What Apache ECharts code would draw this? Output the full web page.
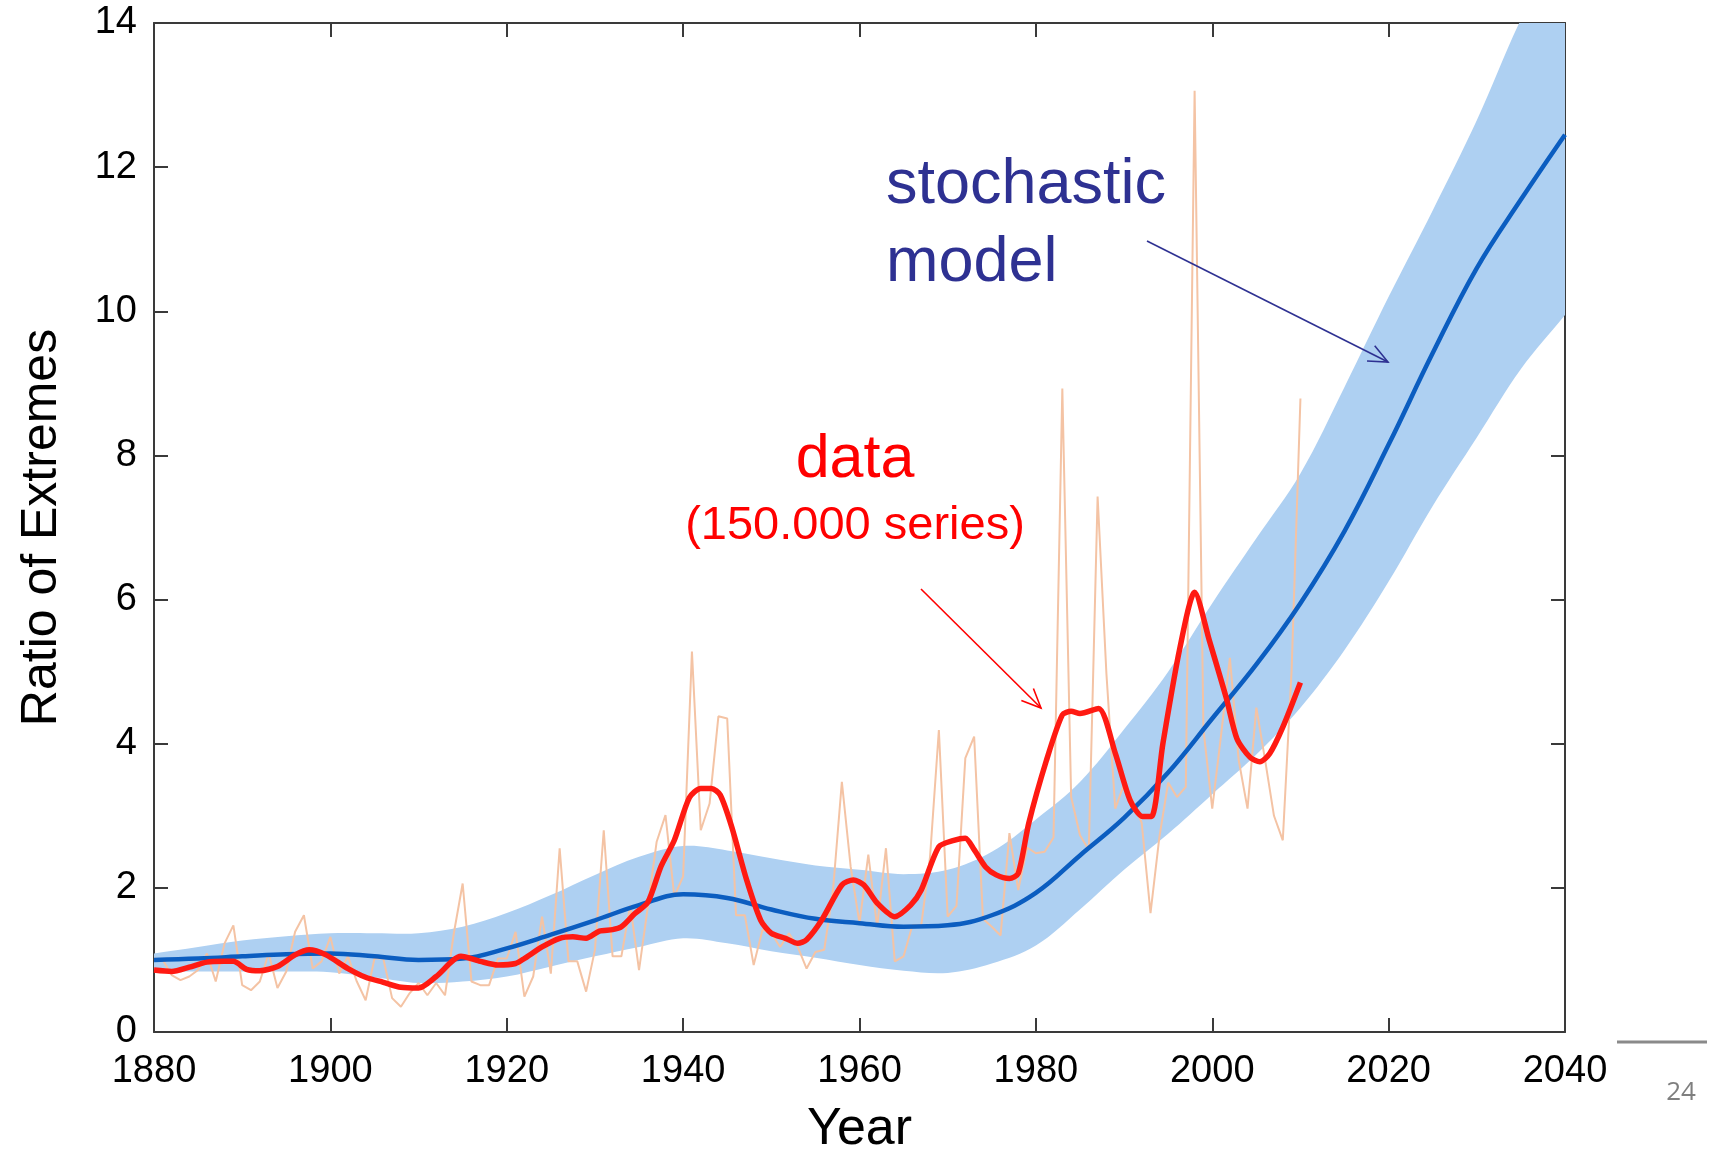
<!DOCTYPE html>
<html>
<head>
<meta charset="utf-8">
<script src="https://cdn.jsdelivr.net/npm/echarts@6/dist/echarts.min.js"></script>
<style>
  html, body { margin: 0; padding: 0; background: #ffffff; }
  #chart { width: 1716px; height: 1150px; }
</style>
</head>
<body>
<div id="chart"></div>
<script>
// Stochastic model: median and uncertainty band, every 5 years
const modelYears  = [1880, 1885, 1890, 1895, 1900, 1905, 1910, 1915, 1920, 1925, 1930, 1935, 1940, 1945, 1950, 1955, 1960,
                     1965, 1970, 1975, 1980, 1985, 1990, 1995, 2000, 2005, 2010, 2015, 2020, 2025, 2030, 2035, 2040];
const modelMedian = [1.00, 1.02, 1.05, 1.08, 1.09, 1.05, 1.00, 1.02, 1.16, 1.35, 1.55, 1.76, 1.91, 1.86, 1.70, 1.57, 1.51,
                     1.46, 1.48, 1.62, 1.93, 2.45, 2.97, 3.60, 4.35, 5.10, 5.95, 6.95, 8.15, 9.42, 10.60, 11.55, 12.45];
const modelUpper  = [1.09, 1.18, 1.27, 1.33, 1.37, 1.37, 1.37, 1.46, 1.65, 1.90, 2.18, 2.43, 2.58, 2.52, 2.41, 2.31, 2.25,
                     2.19, 2.25, 2.50, 2.95, 3.47, 4.20, 5.00, 5.95, 6.85, 7.75, 8.95, 10.20, 11.40, 12.65, 14.05, 15.20];
const modelLower  = [0.84, 0.84, 0.84, 0.84, 0.83, 0.76, 0.68, 0.70, 0.77, 0.91, 1.05, 1.18, 1.30, 1.23, 1.12, 1.03, 0.93,
                     0.85, 0.82, 0.95, 1.20, 1.70, 2.25, 2.75, 3.30, 3.85, 4.50, 5.30, 6.25, 7.30, 8.25, 9.20, 9.95];

// Observed ratio of record highs to record lows, one value per year from 1880
const annualStart = 1880;
const annualRatio = [
  1.02, 1.00, 0.79, 0.72, 0.77, 0.86, 1.09, 0.70, 1.23, 1.48,   // 1880s
  0.65, 0.58, 0.70, 1.09, 0.61, 0.84, 1.39, 1.62, 0.88, 0.98,   // 1890s
  1.32, 0.81, 1.05, 0.70, 0.44, 1.02, 1.02, 0.47, 0.35, 0.54,   // 1900s
  0.68, 0.51, 0.68, 0.51, 1.37, 2.06, 0.70, 0.65, 0.65, 1.02,   // 1910s
  1.02, 1.39, 0.49, 0.77, 1.60, 0.81, 2.55, 0.98, 0.98, 0.56,   // 1920s
  1.14, 2.80, 1.05, 1.05, 1.76, 0.86, 1.74, 2.64, 3.01, 1.88,   // 1930s
  2.16, 5.28, 2.80, 3.17, 4.38, 4.35, 1.62, 1.62, 0.93, 1.42,   // 1940s
  1.37, 1.18, 1.37, 1.18, 0.88, 1.11, 1.14, 1.97, 3.47, 2.29,   // 1950s
  1.51, 2.46, 1.46, 2.55, 0.98, 1.05, 1.48, 1.48, 2.43, 4.19,   // 1960s
  1.60, 1.75, 3.80, 4.10, 1.57, 1.46, 1.34, 2.76, 1.97, 2.56,   // 1970s
  2.48, 2.50, 2.70, 8.93, 3.26, 2.73, 2.53, 7.43, 4.97, 3.10,   // 1980s
  3.44, 3.20, 2.90, 1.65, 2.70, 3.46, 3.26, 3.40, 13.06, 4.20,  // 1990s
  3.10, 4.12, 5.19, 3.77, 3.10, 4.50, 3.77, 3.00, 2.66, 5.02,   // 2000s
  8.79                                                          // 2010
];

// Smoothed observed ratio
const smoothYears = [1880, 1882, 1884, 1886, 1888, 1889, 1890.5, 1892, 1894, 1896, 1897.6, 1899.5, 1902, 1904, 1906, 1908,
                     1910, 1912, 1914.8, 1917, 1919, 1921, 1922, 1924, 1926, 1927.5, 1929, 1930.5, 1932, 1933, 1934.5,
                     1936, 1937.5, 1939, 1940.7, 1942, 1943.2, 1944.2, 1945.5, 1947.2, 1948.8, 1950, 1951.6, 1953, 1954,
                     1955.7, 1958, 1959.3, 1960.5, 1962, 1964, 1965.8, 1967, 1969, 1970.7, 1972, 1973, 1974.3, 1975.5,
                     1977, 1978, 1979.2, 1981.2, 1983, 1984, 1985, 1987.1, 1989, 1990.7, 1992.1, 1993.1, 1994.4, 1996.3,
                     1998, 1999.7, 2001.6, 2002.8, 2004.3, 2005.4, 2006.5, 2008, 2010];
const smoothRatio = [0.86, 0.84, 0.90, 0.97, 0.98, 0.98, 0.87, 0.85, 0.91, 1.07, 1.14, 1.07, 0.88, 0.76, 0.69, 0.62,
                     0.61, 0.77, 1.05, 0.98, 0.93, 0.95, 1.02, 1.18, 1.30, 1.32, 1.30, 1.40, 1.42, 1.46, 1.64,
                     1.80, 2.30, 2.66, 3.25, 3.38, 3.38, 3.29, 2.85, 2.11, 1.55, 1.37, 1.30, 1.23, 1.28,
                     1.55, 2.04, 2.11, 2.04, 1.79, 1.60, 1.76, 1.97, 2.57, 2.66, 2.69, 2.53, 2.29, 2.18,
                     2.13, 2.20, 2.90, 3.77, 4.40, 4.45, 4.42, 4.49, 3.87, 3.21, 2.99, 2.99, 4.00, 5.31,
                     6.10, 5.42, 4.63, 4.07, 3.81, 3.75, 3.86, 4.23, 4.85];

const FONT = '"Liberation Sans", Arial, sans-serif';
const AXIS_COLOR = '#3a3a3a';
const BAND_COLOR = '#aed0f2';

const pair = (xs, ys) => xs.map((x, i) => [x, ys[i]]);

const chart = echarts.init(document.getElementById('chart'), null, { renderer: 'canvas' });

function arrow(x1, y1, x2, y2, color) {
  const ang = Math.atan2(y2 - y1, x2 - x1);
  const len = 21, spread = 0.42;
  const a = [x2 - len * Math.cos(ang - spread), y2 - len * Math.sin(ang - spread)];
  const b = [x2 - len * Math.cos(ang + spread), y2 - len * Math.sin(ang + spread)];
  return [
    { type: 'line', z: 20, shape: { x1: x1, y1: y1, x2: x2, y2: y2 }, style: { stroke: color, lineWidth: 1.6 } },
    { type: 'polyline', z: 20, shape: { points: [a, [x2, y2], b] }, style: { stroke: color, lineWidth: 1.6, fill: null } }
  ];
}

// Uncertainty band: one filled shape between the upper and lower model curves
function renderBand(params, api) {
  if (params.dataIndex !== 0) return null;
  const n = modelYears.length;
  const upper = [], lower = [];
  for (let i = 0; i < n; i++) {
    upper.push(api.coord([modelYears[i], modelUpper[i]]));
    lower.push(api.coord([modelYears[i], modelLower[i]]));
  }
  // repeat the end points so the smoothing keeps square ends
  const pts = [upper[0]].concat(upper, [upper[n - 1], lower[n - 1]], lower.slice().reverse(), [lower[0]]);
  const cs = params.coordSys;
  return {
    type: 'polygon',
    shape: { points: pts, smooth: 0.35 },
    style: { fill: BAND_COLOR, stroke: null },
    clipPath: { type: 'rect', shape: { x: cs.x, y: cs.y, width: cs.width, height: cs.height } },
    silent: true
  };
}

const valueAxisCommon = {
  axisLine: { show: true, onZero: false, lineStyle: { color: AXIS_COLOR, width: 2 } },
  axisTick: { show: true, inside: true, length: 14, lineStyle: { color: AXIS_COLOR, width: 2 } },
  splitLine: { show: false }
};

chart.setOption({
  animation: false,
  backgroundColor: '#ffffff',
  grid: { left: 154, right: 151, top: 23, bottom: 118, outerBoundsMode: 'none', containLabel: false },
  xAxis: [
    Object.assign({
      type: 'value', position: 'bottom', min: 1880, max: 2040, interval: 20,
      axisLabel: { show: true, fontSize: 38, color: '#000', margin: 21, fontFamily: FONT, formatter: v => String(v) },
      name: 'Year', nameLocation: 'middle', nameGap: 72,
      nameTextStyle: { fontSize: 52, color: '#000', fontFamily: FONT }
    }, valueAxisCommon),
    Object.assign({
      type: 'value', position: 'top', min: 1880, max: 2040, interval: 20,
      axisLabel: { show: false }
    }, valueAxisCommon)
  ],
  yAxis: [
    Object.assign({
      type: 'value', position: 'left', min: 0, max: 14, interval: 2,
      axisLabel: { show: true, fontSize: 38, color: '#000', margin: 17, fontFamily: FONT },
      name: 'Ratio of Extremes', nameLocation: 'middle', nameGap: 87, nameRotate: 90,
      nameTextStyle: { fontSize: 50, color: '#000', fontFamily: FONT }
    }, valueAxisCommon),
    Object.assign({
      type: 'value', position: 'right', min: 0, max: 14, interval: 2,
      axisLabel: { show: false }
    }, valueAxisCommon)
  ],
  series: [
    {
      name: 'model band', type: 'custom', silent: true, z: 2,
      data: modelYears.map((y, i) => [y, modelLower[i], modelUpper[i]]),
      encode: { x: 0, y: [1, 2] },
      renderItem: renderBand
    },
    {
      name: 'annual', type: 'line', symbol: 'none', silent: true,
      data: annualRatio.map((v, i) => [annualStart + i, v]),
      lineStyle: { color: '#f4c3a4', width: 2 }, z: 3
    },
    {
      name: 'model median', type: 'line', smooth: 0.4, symbol: 'none', silent: true,
      data: pair(modelYears, modelMedian),
      lineStyle: { color: '#0b5dc0', width: 4.5 }, z: 4
    },
    {
      name: 'smoothed data', type: 'line', smooth: 0.25, symbol: 'none', silent: true,
      data: pair(smoothYears, smoothRatio),
      lineStyle: { color: '#ff1a12', width: 5.5, join: 'round' }, z: 5
    }
  ],
  graphic: [
    { type: 'text', z: 20, style: { text: 'stochastic', x: 886, y: 186, font: '63px ' + FONT, fill: '#2e3192', textAlign: 'left', textVerticalAlign: 'middle' } },
    { type: 'text', z: 20, style: { text: 'model', x: 886, y: 264, font: '63px ' + FONT, fill: '#2e3192', textAlign: 'left', textVerticalAlign: 'middle' } },
    { type: 'text', z: 20, style: { text: 'data', x: 855, y: 460, font: '61px ' + FONT, fill: '#ff0000', textAlign: 'center', textVerticalAlign: 'middle' } },
    { type: 'text', z: 20, style: { text: '(150.000 series)', x: 855, y: 526, font: '47px ' + FONT, fill: '#ff0000', textAlign: 'center', textVerticalAlign: 'middle' } },
    ...arrow(1147, 241, 1388, 362, '#2e3192'),
    ...arrow(921, 589, 1041, 708, '#ff0000'),
    { type: 'line', z: 20, shape: { x1: 1617, y1: 1042, x2: 1707, y2: 1042 }, style: { stroke: '#8a8a8a', lineWidth: 3 } },
    { type: 'text', z: 20, style: { text: '24', x: 1681, y: 1093, font: '26px "Open Sans", "Noto Sans", sans-serif', fill: '#7f7f7f', textAlign: 'center', textVerticalAlign: 'middle' } }
  ]
});
</script>
</body>
</html>
